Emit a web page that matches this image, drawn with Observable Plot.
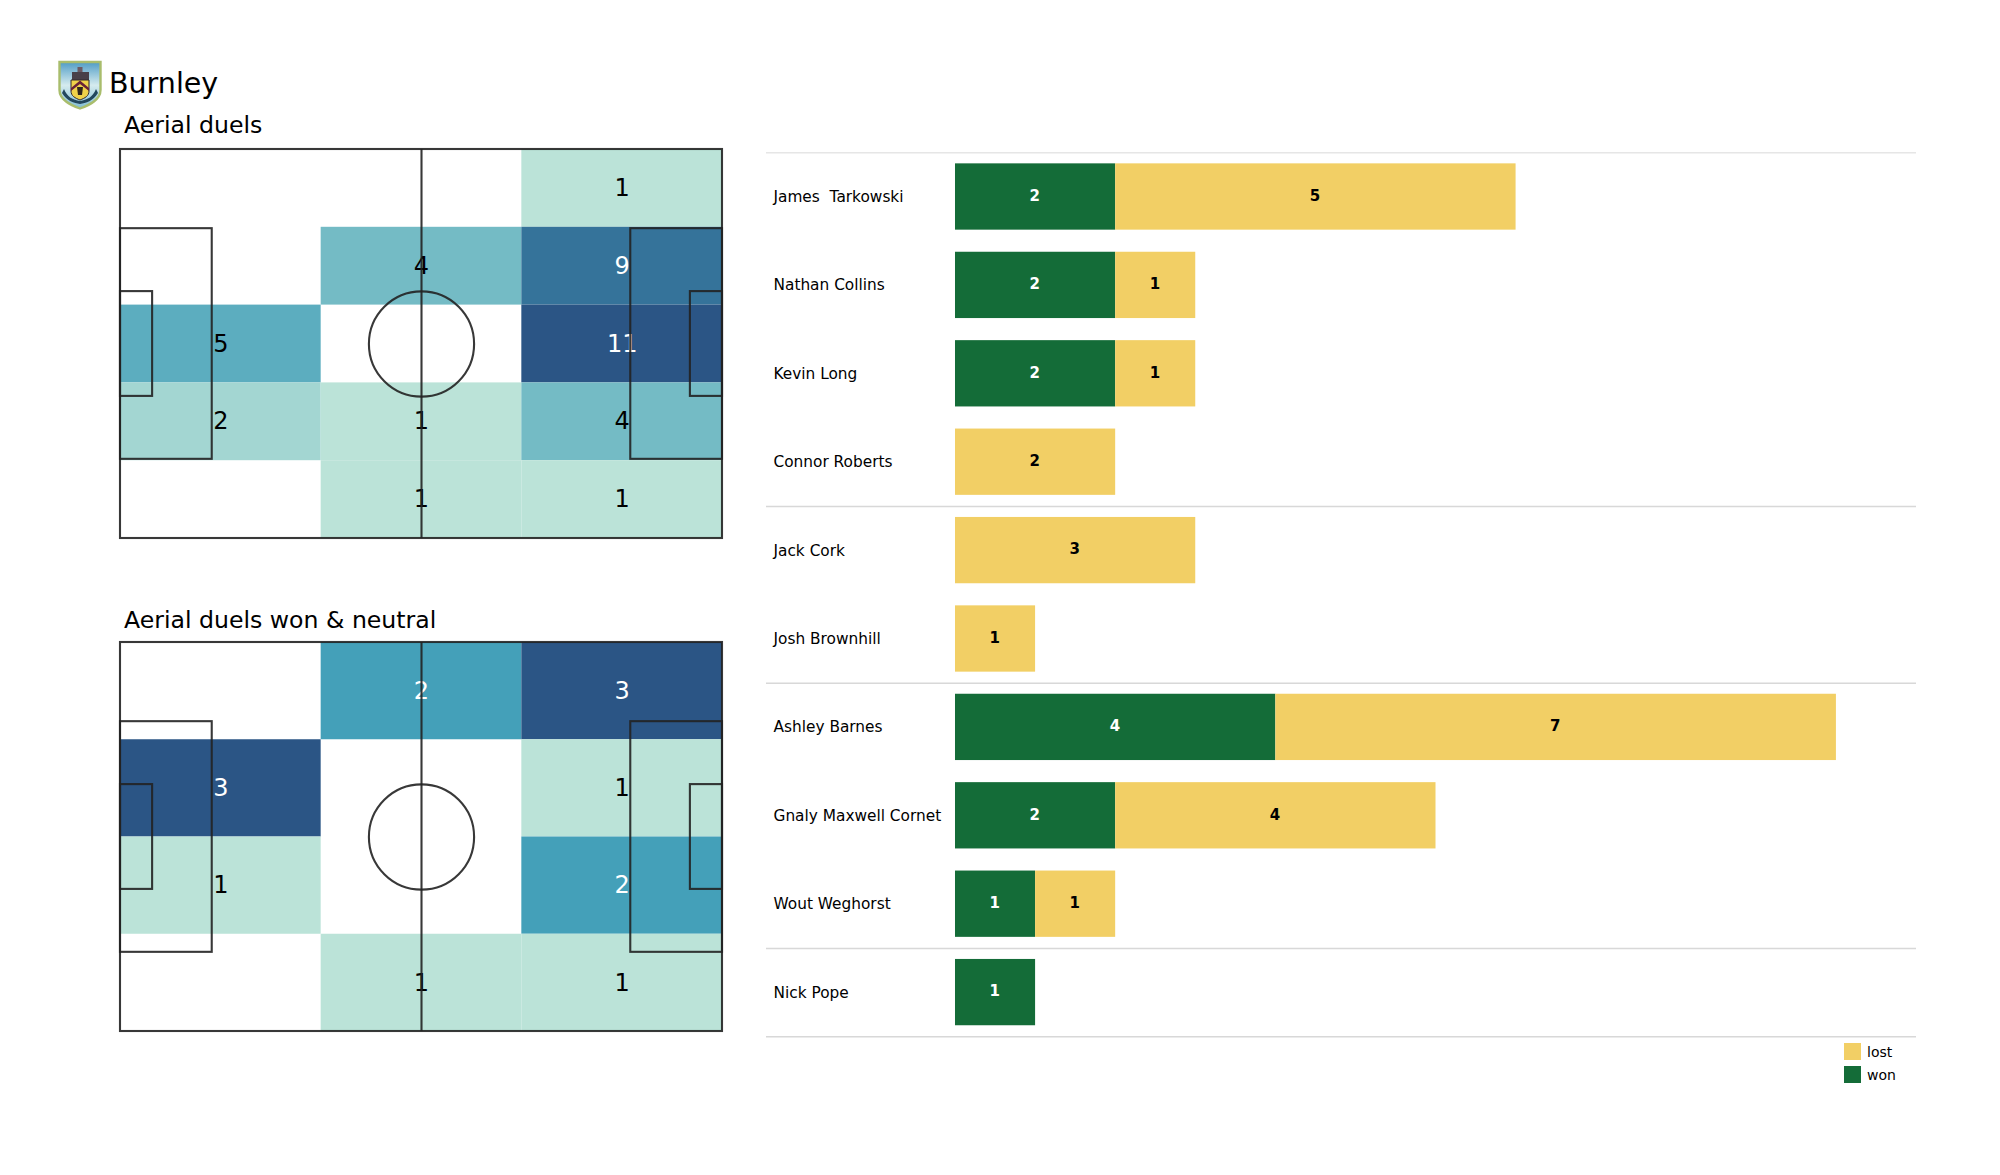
<!DOCTYPE html>
<html>
<head>
<meta charset="utf-8">
<script src="https://cdn.jsdelivr.net/npm/d3@7"></script>
<script src="https://cdn.jsdelivr.net/npm/@observablehq/plot@0.6"></script>
<style>
html,body{margin:0;padding:0;background:#fff;}
#page{position:relative;width:2000px;height:1175px;overflow:hidden;font-family:"DejaVu Sans",sans-serif;color:#000;}
#page svg text{white-space:pre;}
.lbl{position:absolute;white-space:pre;line-height:1;}
.sw{position:absolute;width:17px;height:17px;}
</style>
</head>
<body>
<div id="page">
  <svg id="crest" width="44" height="50" viewBox="0 0 44 50" style="position:absolute;left:58px;top:60px;">
    <defs>
      <linearGradient id="sky" x1="0" y1="0" x2="0" y2="1">
        <stop offset="0" stop-color="#4f9cc6"/><stop offset="0.5" stop-color="#d5ebee"/><stop offset="1" stop-color="#7fbcd2"/>
      </linearGradient>
      <filter id="soft"><feGaussianBlur stdDeviation="0.45"/></filter>
    </defs>
    <g filter="url(#soft)">
      <path d="M1.5 2H42.5V30C42.5 40 31 45 22 48.5C13 45 1.5 40 1.5 30Z" fill="url(#sky)" stroke="#a9bd6c" stroke-width="2.4"/>
      <rect x="19.5" y="7" width="5" height="6" fill="#6d5a63"/>
      <rect x="14" y="12" width="17" height="8" fill="#4a4148"/>
      <path d="M13 20H31V31C31 36 27 38 22 40C17 38 13 36 13 31Z" fill="#f0d24a" stroke="#30282c" stroke-width="1"/>
      <path d="M13 28L22 20.5L31 28V31L22 24L13 31Z" fill="#6b2338"/>
      <path d="M19 27L25 27L24 35L20 35Z" fill="#33261e"/>
      <path d="M6 29C9 37 15 40 22 41C29 40 35 37 38 29L40 33C35 41 28 43 22 44C16 43 9 41 4 33Z" fill="#24465c"/>
    </g>
  </svg>
  <div class="lbl" style="left:109px;top:70px;font-size:28.5px;">Burnley</div>
  <div class="lbl" style="left:124px;top:114px;font-size:23.6px;">Aerial duels</div>
  <div class="lbl" style="left:124px;top:609px;font-size:23.6px;">Aerial duels won &amp; neutral</div>
  <div class="sw" style="left:1844px;top:1043px;background:#f2cf65;"></div>
  <div class="sw" style="left:1844px;top:1066px;background:#146c38;"></div>
  <div class="lbl" style="left:1867px;top:1045px;font-size:14px;">lost</div>
  <div class="lbl" style="left:1867px;top:1068px;font-size:14px;">won</div>
</div>
<script>
// Heat-map counts, rows top to bottom, columns left to right
const aerialDuels = [
  [0, 0, 1],
  [0, 4, 9],
  [5, 0, 11],
  [2, 1, 4],
  [0, 1, 1]
];
const aerialDuelsWonNeutral = [
  [0, 2, 3],
  [3, 0, 1],
  [1, 0, 2],
  [0, 1, 1]
];

// Bar chart
const players = ["James  Tarkowski", "Nathan Collins", "Kevin Long", "Connor Roberts", "Jack Cork",
  "Josh Brownhill", "Ashley Barnes", "Gnaly Maxwell Cornet", "Wout Weghorst", "Nick Pope"];
const won  = [2, 2, 2, 0, 0, 0, 4, 2, 1, 1];
const lost = [5, 1, 1, 2, 3, 1, 7, 4, 1, 0];
const groupStarts = ["James  Tarkowski", "Jack Cork", "Ashley Barnes", "Nick Pope"];

// Pitch geometry in metres
const pitchLength = 105, pitchWidth = 68;
const boxDepth = 16, boxTop = 13.84, boxBottom = 54.16;
const sixDepth = 5.6, sixTop = 24.84, sixBottom = 43.16;
const circleCentre = [{x: 52.5, y: 34}];

const heatColors = ["#bbe3d8", "#44a0b9", "#2b5585"];
const page = document.getElementById("page");
const font = "DejaVu Sans";

function pitch(counts, left, top) {
  const rows = counts.length, cols = counts[0].length;
  const w = pitchLength / cols, h = pitchWidth / rows;
  const cells = counts.flatMap((row, r) => row.map((v, c) => ({
    v, x1: c * w, x2: (c + 1) * w, y1: r * h, y2: (r + 1) * h
  }))).filter(d => d.v > 0);
  const max = d3.max(cells, d => d.v);
  const mid = (1 + max) / 2;
  const boxes = [
    {x1: 0, x2: pitchLength, y1: 0, y2: pitchWidth},
    {x1: 0, x2: boxDepth, y1: boxTop, y2: boxBottom},
    {x1: 0, x2: sixDepth, y1: sixTop, y2: sixBottom},
    {x1: pitchLength - boxDepth, x2: pitchLength, y1: boxTop, y2: boxBottom},
    {x1: pitchLength - sixDepth, x2: pitchLength, y1: sixTop, y2: sixBottom}
  ];
  const line = {stroke: "#222", strokeWidth: 2.1, strokeOpacity: 0.9};
  const svg = Plot.plot({
    width: 622, height: 409,
    marginLeft: 10, marginRight: 10, marginTop: 10, marginBottom: 10,
    x: {domain: [0, pitchLength], axis: null},
    y: {domain: [0, pitchWidth], reverse: true, axis: null},
    color: {type: "linear", domain: [1, mid, max], range: heatColors, interpolate: "rgb"},
    style: {position: "absolute", left: left + "px", top: top + "px", background: "transparent", maxWidth: "none", fontFamily: font},
    marks: [
      Plot.rect(cells, {x1: "x1", x2: "x2", y1: "y1", y2: "y2", fill: "v"}),
      Plot.text(cells, {
        x: d => (d.x1 + d.x2) / 2, y: d => (d.y1 + d.y2) / 2, text: d => String(d.v),
        fontSize: 24, fontFamily: font,
        fill: d => d.v >= mid ? "#ffffff" : "#000000"
      }),
      Plot.rect(boxes, {x1: "x1", x2: "x2", y1: "y1", y2: "y2", fill: "none", ...line}),
      Plot.ruleX([pitchLength / 2], line),
      Plot.dot(circleCentre, {x: "x", y: "y", r: 52.6, fill: "none", ...line})
    ]
  });
  page.appendChild(svg);
}

pitch(aerialDuels, 110, 139);
pitch(aerialDuelsWonNeutral, 110, 632);

const rows = [
  ...players.map((name, i) => ({name, result: "won", value: won[i]})),
  ...players.map((name, i) => ({name, result: "lost", value: lost[i]}))
].filter(d => d.value > 0);
const barFill = {won: "#146c38", lost: "#f2cf65"};
const barText = {won: "#ffffff", lost: "#000000"};
const halfStep = 44.2;

const bars = Plot.plot({
  width: 1150, height: 910,
  marginLeft: 0, marginRight: 0, marginTop: 0, marginBottom: 0,
  x: {domain: [-2.36, 12], range: [0, 1150], axis: null},
  y: {domain: players, range: [12.3, 896.3], paddingInner: 0.25, paddingOuter: 0.125, round: false, axis: null},
  color: {type: "identity"},
  style: {position: "absolute", left: "766px", top: "140px", background: "transparent", maxWidth: "none", fontFamily: font},
  marks: [
    Plot.ruleX([0], {y1: players[0], y2: players[players.length - 1], stroke: "#eeeeee", strokeWidth: 1}),
    Plot.ruleY(groupStarts, {dy: -halfStep, stroke: d => d === players[0] ? "#e6e6e6" : "#d8d8d8", strokeWidth: 1.5}),
    Plot.ruleY([players[players.length - 1]], {dy: halfStep, stroke: "#d8d8d8", strokeWidth: 1.5}),
    Plot.barX(rows, Plot.stackX({x: "value", y: "name", z: "result", fill: d => barFill[d.result]})),
    Plot.text(rows, Plot.stackX({
      x: "value", y: "name", z: "result", text: d => String(d.value), dx: -0.8, dy: -1,
      fill: d => barText[d.result], fontSize: 15, fontWeight: "bold", fontFamily: font
    })),
    Plot.text(players, {
      y: d => d, text: d => d, frameAnchor: "left", dx: 7, textAnchor: "start",
      fontSize: 15.35, fontFamily: font, fill: "#000"
    })
  ]
});
page.appendChild(bars);
</script>
</body>
</html>
